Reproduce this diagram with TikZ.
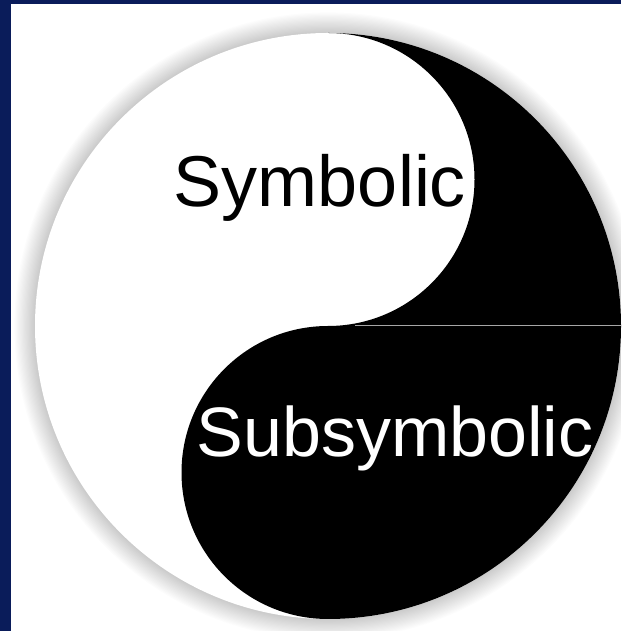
\documentclass[tikz,border=0pt]{standalone}
\usepackage{fontspec}
\setmainfont{Liberation Sans}
\usepackage{xcolor}
\usepackage{tikz}
\definecolor{navy}{RGB}{10,28,90}

\begin{document}
\begin{tikzpicture}[x=1pt, y=1pt,
    label text/.style={inner sep=0pt, anchor=base, font=\fontsize{72}{80}\selectfont}]
    % Frame
    \useasboundingbox (0,0) rectangle (621,631);
    \clip (0,0) rectangle (621,631);
    \fill[white] (0,0) rectangle (621,631);
    \fill[navy] (0,0) rectangle (11,631);
    \fill[navy] (0,627) rectangle (621,631);

    % Soft shadow round the disc
    \foreach \d in {1,...,18}
        \fill[black, opacity=0.011] (328,305) circle ({292+1.2*\d});

    % Disc with the dark half
    \fill[white] (328,305) circle (293);
    \fill[black] (328,598) arc[start angle=90, end angle=-90, radius=293]
        arc[start angle=270, end angle=90, radius=146.5]
        arc[start angle=270, end angle=450, radius=146.5] -- cycle;

    % Seam
    \coordinate (seamL) at (355,306);
    \coordinate (seamR) at (621,306);
    \draw[gray!70, line width=0.6pt] (seamL) -- (seamR);

    % Labels
    \node[label text] (sym) at (320,424) {Symbolic};
    \node[label text, white, font=\fontsize{70}{80}\selectfont] (subsym) at (395,174) {Subsymbolic};
\end{tikzpicture}
\end{document}
